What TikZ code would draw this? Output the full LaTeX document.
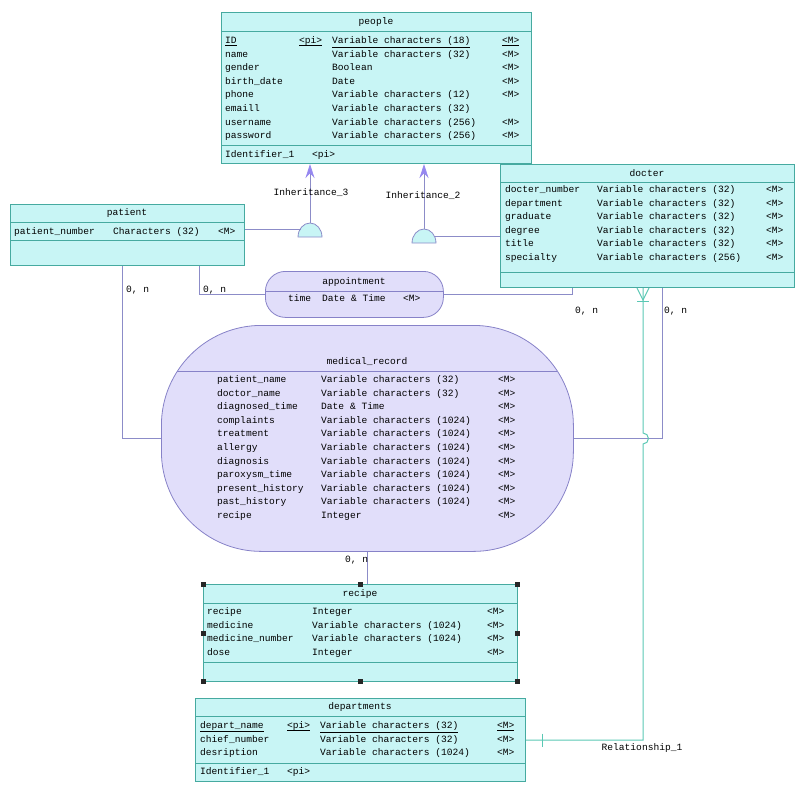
\documentclass[tikz,border=0pt]{standalone}
\usepackage{fontspec}
\setmonofont{Liberation Mono}
\usetikzlibrary{arrows.meta}
\definecolor{tblfill}{RGB}{200,245,245}
\definecolor{tbledge}{RGB}{70,170,160}
\definecolor{assocfill}{RGB}{225,222,250}
\definecolor{assocedge}{RGB}{135,130,200}
\definecolor{linkcol}{RGB}{140,140,200}
\definecolor{relcol}{RGB}{90,200,180}
\definecolor{arrowcol}{RGB}{150,135,240}
\tikzstyle{every node}=[font=\ttfamily\fontsize{9.6}{13.6}\selectfont, inner sep=0]
\tikzstyle{entity}=[draw=tbledge, fill=tblfill, line width=1, anchor=north west]
\tikzstyle{assoc}=[draw=assocedge, fill=assocfill, line width=0.8, anchor=north west]
\tikzstyle{coltext}=[anchor=north west, align=left]
\tikzstyle{title}=[anchor=base]
\tikzstyle{card}=[anchor=north west, execute at begin node=\strut]
\tikzstyle{link}=[draw=linkcol, line width=0.8]
\tikzstyle{rel}=[draw=relcol, line width=1]
\tikzstyle{inharrow}=[draw=linkcol, line width=0.8, -{Stealth[length=14,width=9,color=arrowcol,fill=arrowcol]}]
\tikzstyle{dome}=[draw=linkcol, fill=tblfill, line width=0.8]

\begin{document}
\begin{tikzpicture}[x=1pt, y=-1pt]
    \useasboundingbox (0,0) rectangle (800,800);
% Entities
    \node[entity, minimum width=310, minimum height=151] (people) at (221,12) {};
    \draw[tbledge] (221,31) -- (531,31);
    \draw[tbledge] (221,145) -- (531,145);
    \node[title] (people-t) at (376,24.5) {people};
    \node[coltext] (people-a) at (225,33.7) {\strut\underline{ID}\\name\\gender\\birth\_date\\phone\\emaill\\username\\password};
    \node[coltext] (people-k) at (299,33.7) {\strut\underline{<\smash{p}i>}};
    \node[coltext] (people-b) at (332,33.7) {\strut\underline{Variable characters (18)}\\Variable characters (32)\\Boolean\\Date\\Variable characters (12)\\Variable characters (32)\\Variable characters (256)\\Variable characters (256)};
    \node[coltext] (people-c) at (502,33.7) {\strut\underline{<M>}\\<M>\\<M>\\<M>\\<M>\\~\\<M>\\<M>};
    \node[coltext] (people-i) at (225,147.7) {\strut Identifier\_1};
    \node[coltext] (people-ik) at (312,147.7) {\strut <pi>};

    \node[entity, minimum width=234, minimum height=61] (patient) at (10,204) {};
    \draw[tbledge] (10,222) -- (244,222);
    \draw[tbledge] (10,240) -- (244,240);
    \node[title] (patient-t) at (127,215) {patient};
    \node[coltext] (patient-a) at (14,224.7) {\strut patient\_number};
    \node[coltext] (patient-b) at (113,224.7) {\strut Characters (32)};
    \node[coltext] (patient-c) at (218,224.7) {\strut <M>};

    \node[entity, minimum width=294, minimum height=123] (docter) at (500,164) {};
    \draw[tbledge] (500,182) -- (794,182);
    \draw[tbledge] (500,272) -- (794,272);
    \node[title] (docter-t) at (647,176) {docter};
    \node[coltext] (docter-a) at (505,182.7) {\strut docter\_number\\department\\graduate\\degree\\title\\specialty};
    \node[coltext] (docter-b) at (597,182.7) {\strut Variable characters (32)\\Variable characters (32)\\Variable characters (32)\\Variable characters (32)\\Variable characters (32)\\Variable characters (256)};
    \node[coltext] (docter-c) at (766,182.7) {\strut <M>\\<M>\\<M>\\<M>\\<M>\\<M>};

    \node[entity, minimum width=314, minimum height=97] (recipe) at (203,584) {};
    \draw[tbledge] (203,603) -- (517,603);
    \draw[tbledge] (203,662) -- (517,662);
    \node[title] (recipe-t) at (360,596.5) {recipe};
    \node[coltext] (recipe-a) at (207,604.7) {\strut recipe\\medicine\\medicine\_number\\dose};
    \node[coltext] (recipe-b) at (312,604.7) {\strut Integer\\Variable characters (1024)\\Variable characters (1024)\\Integer};
    \node[coltext] (recipe-c) at (487,604.7) {\strut <M>\\<M>\\<M>\\<M>};

    \node[entity, minimum width=330, minimum height=83] (dept) at (195,698) {};
    \draw[tbledge] (195,716) -- (525,716);
    \draw[tbledge] (195,763) -- (525,763);
    \node[title] (dept-t) at (360,709.5) {departments};
    \node[coltext] (dept-a) at (200,718.7) {\strut\underline{de\smash{p}art\_name}\\chief\_number\\desription};
    \node[coltext] (dept-k) at (287,718.7) {\strut\underline{<\smash{p}i>}};
    \node[coltext] (dept-b) at (320,718.7) {\strut\underline{Variable characters (32)}\\Variable characters (32)\\Variable characters (1024)};
    \node[coltext] (dept-c) at (497,718.7) {\strut\underline{<M>}\\<M>\\<M>};
    \node[coltext] (dept-i) at (200,764.7) {\strut Identifier\_1};
    \node[coltext] (dept-ik) at (287,764.7) {\strut <pi>};
% Associations
    \node[assoc, rounded corners=20, minimum width=178, minimum height=46] (appt) at (265,271) {};
    \draw[assocedge] (265,291) -- (443,291);
    \node[title] (appt-t) at (354,284.5) {appointment};
    \node[coltext] (appt-a) at (288,291.7) {\strut time};
    \node[coltext] (appt-b) at (322,291.7) {\strut Date \& Time};
    \node[coltext] (appt-c) at (403,291.7) {\strut <M>};

    \node[assoc, rounded corners=100, minimum width=412, minimum height=226] (mr) at (161,325) {};
    \draw[assocedge] (177,371) -- (557,371);
    \node[title] (mr-t) at (367,364.5) {medical\_record};
    \node[coltext] (mr-a) at (217,372.7) {\strut patient\_name\\doctor\_name\\diagnosed\_time\\complaints\\treatment\\allergy\\diagnosis\\paroxysm\_time\\present\_history\\past\_history\\recipe};
    \node[coltext] (mr-b) at (321,372.7) {\strut Variable characters (32)\\Variable characters (32)\\Date \& Time\\Variable characters (1024)\\Variable characters (1024)\\Variable characters (1024)\\Variable characters (1024)\\Variable characters (1024)\\Variable characters (1024)\\Variable characters (1024)\\Integer};
    \node[coltext] (mr-c) at (498,372.7) {\strut <M>\\<M>\\<M>\\<M>\\<M>\\<M>\\<M>\\<M>\\<M>\\<M>\\<M>};
% Selection handles
    \fill[black!85] (200.5,581.5) rectangle ++(5,5);
    \fill[black!85] (357.5,581.5) rectangle ++(5,5);
    \fill[black!85] (514.5,581.5) rectangle ++(5,5);
    \fill[black!85] (200.5,630.5) rectangle ++(5,5);
    \fill[black!85] (514.5,630.5) rectangle ++(5,5);
    \fill[black!85] (200.5,678.5) rectangle ++(5,5);
    \fill[black!85] (357.5,678.5) rectangle ++(5,5);
    \fill[black!85] (514.5,678.5) rectangle ++(5,5);
% Inheritances
    \coordinate (ih3) at (310,237);
    \coordinate (ih3w) at (301,229);
    \coordinate (ih2) at (424,243);
    \coordinate (ih2e) at (434,236);
    \draw[inharrow] (ih3) ++(0,-13) -- (ih3 |- people.south);
    \draw[inharrow] (ih2) ++(0,-13) -- (ih2 |- people.south);
    \filldraw[dome] (ih3) ++(-12,0) arc[x radius=12, y radius=14, start angle=180, end angle=360] -- cycle;
    \filldraw[dome] (ih2) ++(-12,0) arc[x radius=12, y radius=14, start angle=180, end angle=360] -- cycle;
    \draw[link] (patient.east |- ih3w) -- (ih3w);
    \draw[link] (ih2e) -- (ih2e -| docter.west);
    \node[title] (ih3-l) at (311,195.5) {Inheritance\_3};
    \node[title] (ih2-l) at (423,198.5) {Inheritance\_2};
% Links
    \draw[link] ([xshift=112]patient.south west) |- (mr.west);
    \draw[link] ([xshift=189]patient.south west) |- (appt.west);
    \draw[link] (appt.east) -| ([xshift=72]docter.south west);
    \draw[link] ([xshift=162]docter.south west) |- (mr.east);
    \draw[link] (mr.south) -- (mr.south |- recipe.north);
    \node[card] (c1) at (126,282.7) {0, n};
    \node[card] (c2) at (203,282.7) {0, n};
    \node[card] (c3) at (575,303.7) {0, n};
    \node[card] (c4) at (664,303.7) {0, n};
    \node[card] (c5) at (345,552.7) {0, n};
% Relationship
    \draw[rel] ([xshift=143]docter.south west) -- ++(0,145) arc[start angle=-90, end angle=90, radius=5.5] |- (dept.east);
    \draw[rel] ([xshift=137]docter.south west) -- ++(6,12) -- ++(6,-12);
    \draw[rel] ([xshift=137,yshift=-13]docter.south west) -- ++(12,0);
    \draw[rel] ([xshift=16,yshift=6.5]dept.east) -- ++(0,13);
    \node[title] (rel-l) at (642,750.5) {Relationship\_1};
\end{tikzpicture}
\end{document}
